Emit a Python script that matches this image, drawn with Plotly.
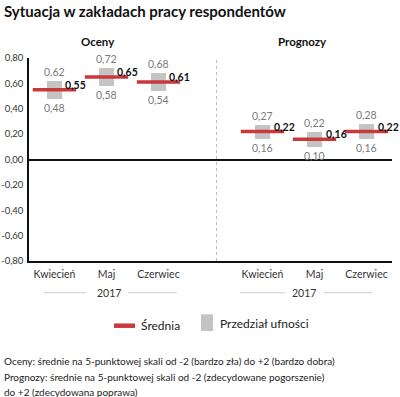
import plotly.graph_objects as go

# ---- data ----
months = ["Kwiecień", "Maj", "Czerwiec", "Kwiecień", "Maj", "Czerwiec"]
positions = [0, 1, 2, 4, 5, 6]
mean_vals = [0.55, 0.65, 0.61, 0.22, 0.16, 0.22]
low_vals = [0.48, 0.58, 0.54, 0.16, 0.10, 0.16]
high_vals = [0.62, 0.72, 0.68, 0.27, 0.22, 0.28]
y_ticks = [0.8, 0.6, 0.4, 0.2, 0.0, -0.2, -0.4, -0.6, -0.8]
y_tick_labels = ["0,80", "0,60", "0,40", "0,20", "0,00", "-0,20", "-0,40", "-0,60", "-0,80"]
group_titles = ["Oceny", "Prognozy"]
year_label = "2017"
legend_labels = ["Średnia", "Przedział ufności"]
title_text = "Sytuacja w zakładach pracy respondentów"
notes = [
    "Oceny: średnie na 5-punktowej skali od -2 (bardzo zła) do +2 (bardzo dobra)",
    "Prognozy: średnie na 5-punktowej skali od -2 (zdecydowane pogorszenie)",
    "do +2 (zdecydowana poprawa)",
]

def fmt(v):
    return f"{v:.2f}".replace(".", ",")

RED = "#c9393b"
GREY = "#c4c4c4"
FONT = "Lato"

W, H = 400, 397
ML, MR, MT, MB = 29, 8, 58, 136
PW, PH = W - ML - MR, H - MT - MB

def px(x):
    return (x - ML) / PW

def py(y):
    return (H - MB - y) / PH

fig = go.Figure()

fig.add_trace(go.Bar(
    x=positions, y=[h - l for h, l in zip(high_vals, low_vals)], base=low_vals,
    width=0.3, marker=dict(color=GREY, line=dict(width=0)), showlegend=False,
    hoverinfo="skip"))

fig.add_trace(go.Scatter(
    x=positions, y=mean_vals, mode="markers",
    marker=dict(symbol="line-ew", size=31, line=dict(width=3.5, color=RED), color=RED),
    showlegend=False, hoverinfo="skip"))

ann = []
for xp, lo, hi, m in zip(positions, low_vals, high_vals, mean_vals):
    ann.append(dict(x=xp, y=hi, text=fmt(hi), showarrow=False, yshift=9, yanchor="middle",
                    font=dict(family=FONT, size=10.5, color="#7a7a7a")))
    ann.append(dict(x=xp, y=lo, text=fmt(lo), showarrow=False, yshift=-9, yanchor="middle",
                    font=dict(family=FONT, size=10.5, color="#7a7a7a")))
    ann.append(dict(x=xp, y=m, text="<b>" + fmt(m) + "</b>", showarrow=False,
                    xanchor="left", yanchor="middle", xshift=9, yshift=5,
                    font=dict(family=FONT, size=10.5, color="#111111")))

def pann(text, xpix, ypix, size, color, xanchor="center"):
    return dict(xref="paper", yref="paper", x=px(xpix), y=py(ypix), text=text,
                xanchor=xanchor, yanchor="middle", showarrow=False,
                font=dict(family=FONT, size=size, color=color))

# group titles
for t, xpix in zip(group_titles, [97.5, 302.5]):
    ann.append(pann("<b>" + t + "</b>", xpix, 41, 11.5, "#111111"))

shapes = []
# year labels + lines
for xc, segs in [(109, [(44, 86), (128, 177)]), (304, [(240, 285), (324, 372)])]:
    ann.append(pann(year_label, xc, 292.7, 10.5, "#333333"))
    for a, b in segs:
        shapes.append(dict(type="line", xref="paper", yref="paper", x0=px(a), x1=px(b),
                           y0=py(292.7), y1=py(292.7), line=dict(color="#cccccc", width=1)))

# dotted separator
shapes.append(dict(type="line", xref="x", yref="y", x0=3.115, x1=3.115, y0=-0.8, y1=0.8,
                   line=dict(color="#bbbbbb", width=1, dash="dot"), layer="below"))

# legend
shapes.append(dict(type="line", xref="paper", yref="paper", x0=px(114), x1=px(135),
                   y0=py(325.7), y1=py(325.7), line=dict(color=RED, width=4.5)))
shapes.append(dict(type="rect", xref="paper", yref="paper", x0=px(201), x1=px(213),
                   y0=py(314.3), y1=py(331), line=dict(width=0), fillcolor=GREY))
ann.append(pann(legend_labels[0], 139, 325.7, 12, "#222222", "left"))
ann.append(pann(legend_labels[1], 218, 323.5, 12, "#222222", "left"))

# notes
for t, yy in zip(notes, [361, 376.7, 392]):
    ann.append(pann(t, 2, yy, 10, "#222222", "left"))

fig.update_layout(
    width=W, height=H, margin=dict(l=ML, r=MR, t=MT, b=MB, autoexpand=False),
    paper_bgcolor="white", plot_bgcolor="white",
    title=dict(text="<b>" + title_text + "</b>", x=4 / W, xanchor="left", y=1 - 12 / H,
               yanchor="middle", font=dict(family=FONT, size=15, color="#111111")),
    xaxis=dict(range=[-0.49, 6.49], tickvals=positions, ticktext=months, showgrid=False,
               zeroline=False, showline=True, linecolor="#111111", linewidth=1.5,
               ticks="", ticklabelstandoff=3, automargin=False,
               tickfont=dict(family=FONT, size=10.5, color="#333333"), fixedrange=True),
    yaxis=dict(range=[-0.8, 0.8], tickvals=y_ticks, ticktext=y_tick_labels, showgrid=False,
               zeroline=True, zerolinecolor="#111111", zerolinewidth=1.5,
               showline=True, linecolor="#111111", linewidth=1.5, ticks="",
               ticklabelstandoff=2, automargin=False,
               tickfont=dict(family=FONT, size=9.5, color="#333333"), fixedrange=True),
    annotations=ann, shapes=shapes, bargap=0,
)

fig.write_html("out.html", config={"displayModeBar": False},
               post_script="document.body.style.margin='0';document.body.style.padding='0';")
